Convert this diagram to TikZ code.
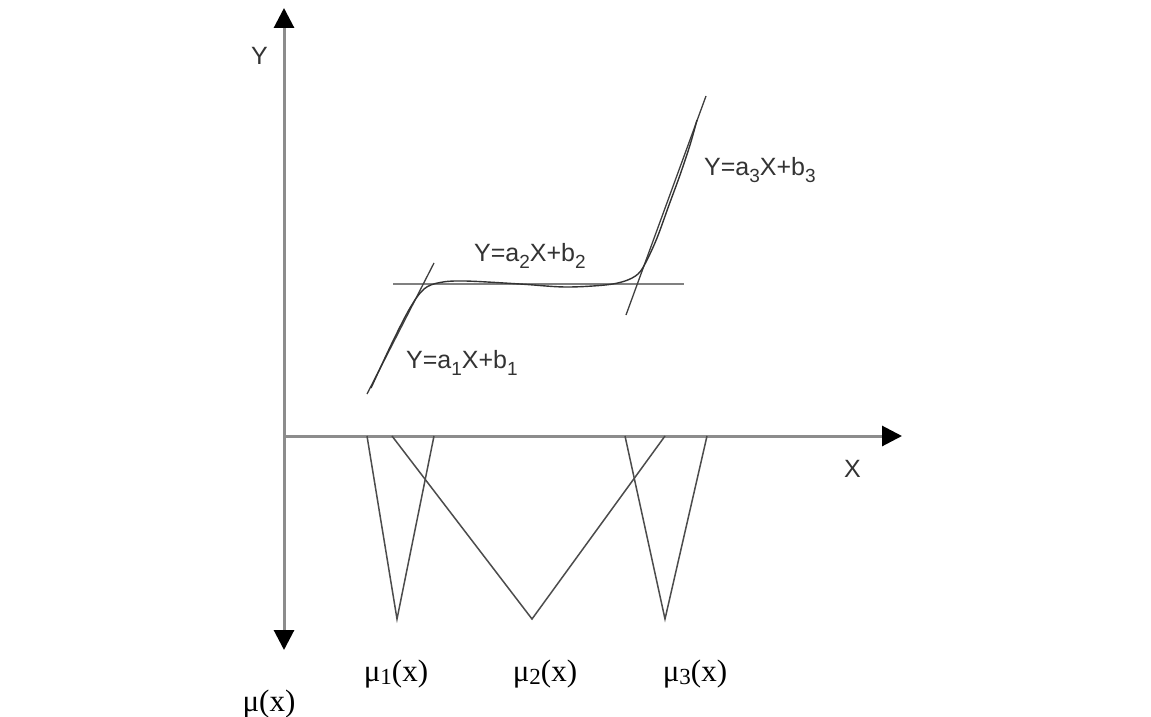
\documentclass[tikz,border=0pt]{standalone}
\usepackage{fontspec}
\setmainfont{Liberation Serif}
\newfontfamily\arialf{Liberation Sans}
\usetikzlibrary{arrows.meta}
\newcommand\sansub[1]{\raisebox{-0.28em}{\fontsize{19}{19}\selectfont #1}}
\newcommand\serifsub[1]{\raisebox{-0.12em}{\fontsize{23}{23}\selectfont #1}}
\tikzset{
  axisline/.style={draw=black!45, line width=3pt, -{Triangle[width=20pt,length=20pt,color=black]}},
  tangent/.style={draw=black!75, line width=1.3pt},
  flatline/.style={draw=black!50, line width=2.6pt},
  curveline/.style={draw=black!80, line width=1.4pt},
  member/.style={draw=black!70, line width=1.5pt, line join=miter},
  eqlabel/.style={font=\arialf\fontsize{25}{25}\selectfont, text=black!80, inner sep=0pt, anchor=base west},
  axlabel/.style={font=\arialf\fontsize{25}{25}\selectfont, text=black!80, inner sep=0pt, anchor=base west},
  mulabel/.style={font=\fontsize{31}{31}\selectfont, inner sep=0pt, anchor=base}
}
\begin{document}
\begin{tikzpicture}[x=1pt,y=-1pt]
\useasboundingbox[fill=white] (0,0) rectangle (1151,717);
% axes
\coordinate (O) at (284,436);
\coordinate (Ytip) at (284,8);
\coordinate (Mtip) at (284,650);
\coordinate (Xtip) at (902,436);
\draw[axisline] (O) -- (Ytip);
\draw[axisline] (O) -- (Mtip);
\draw[axisline] (O) -- (Xtip);
\node[axlabel] (ylab) at (251,65) {Y};
\node[axlabel] (xlab) at (844,477) {X};
% tangent lines
\coordinate (t1a) at (367,394);
\coordinate (t1b) at (434,263);
\coordinate (t2a) at (393,284);
\coordinate (t2b) at (684,284);
\coordinate (t3a) at (626,315);
\coordinate (t3b) at (706,96);
\draw[flatline] (t2a) -- (t2b);
\draw[tangent] (t1a) -- (t1b);
\draw[tangent] (t3a) -- (t3b);
% curve
\draw[curveline] plot[smooth, tension=0.55] coordinates {(371,388) (392,343) (410,308) (424,289) (440,282.5) (465,281) (520,284) (565,287) (605,285) (625,281) (638,274) (646,262) (657,238) (669,205) (680,175) (690,145) (697,120)};
% equation labels
\node[eqlabel] (eq1) at (406,368) {Y=a\sansub{1}X+b\sansub{1}};
\node[eqlabel] (eq2) at (474,261) {Y=a\sansub{2}X+b\sansub{2}};
\node[eqlabel] (eq3) at (704,175) {Y=a\sansub{3}X+b\sansub{3}};
% membership functions
\coordinate (m1l) at (367,436);
\coordinate (m1a) at (397,619);
\coordinate (m1r) at (434,436);
\coordinate (m2l) at (392,436);
\coordinate (m2a) at (532,619);
\coordinate (m2r) at (665,436);
\coordinate (m3l) at (625,436);
\coordinate (m3a) at (665,619);
\coordinate (m3r) at (707,436);
\draw[member] (m1l) -- (m1a) -- (m1r);
\draw[member] (m2l) -- (m2a) -- (m2r);
\draw[member] (m3l) -- (m3a) -- (m3r);
\node[mulabel] (mu1) at (396,681) {μ\serifsub{1}(x)};
\node[mulabel] (mu2) at (545,681) {μ\serifsub{2}(x)};
\node[mulabel] (mu3) at (695,681) {μ\serifsub{3}(x)};
\node[mulabel] (mu) at (269,711) {μ(x)};
\end{tikzpicture}
\end{document}
